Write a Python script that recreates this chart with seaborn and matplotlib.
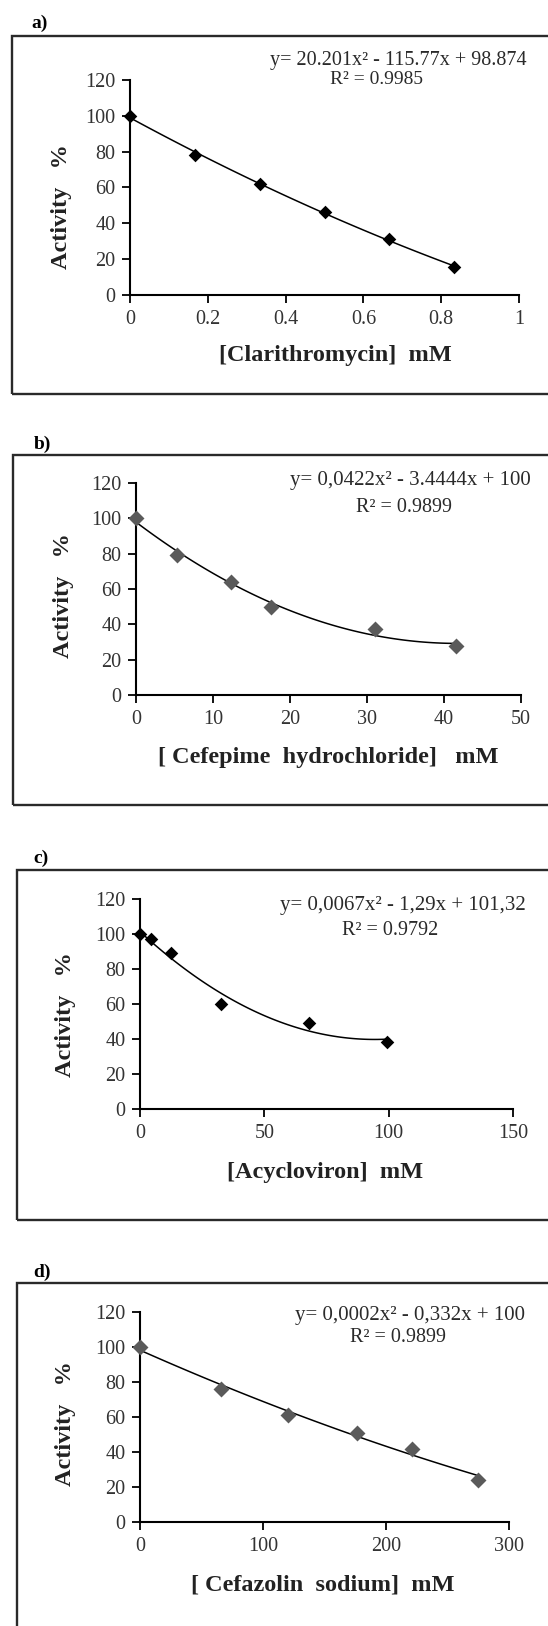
import numpy as np
import pandas as pd
import matplotlib
matplotlib.use("Agg")
import matplotlib.pyplot as plt
import seaborn as sns
from matplotlib.patches import Rectangle

sns.set_theme(style="ticks")
plt.rcParams['font.family'] = ['Liberation Serif', 'DejaVu Serif']

W, H = 548, 1626

# ---------------- data ----------------
clar_x = [0, 0.167, 0.333, 0.5, 0.667, 0.833]
clar_y = [100, 78, 62, 46.5, 31, 15.5]

cef_x = [0, 5.3, 12.3, 17.5, 31, 41.5]
cef_y = [100, 79, 64, 50, 37.5, 27.5]

acy_x = [0, 4.6, 12.6, 32.6, 67.8, 99.5]
acy_y = [100, 97, 89, 60, 49, 38.5]

cfz_x = [0, 65.5, 120.5, 176.5, 221, 274.5]
cfz_y = [100, 76, 61, 51, 42, 24]

y_ticks = [0, 20, 40, 60, 80, 100, 120]
a_xticks = [0, 0.2, 0.4, 0.6, 0.8, 1]
a_xticklabels = ["0", "0.2", "0.4", "0.6", "0.8", "1"]
b_xticks = [0, 10, 20, 30, 40, 50]
c_xticks = [0, 50, 100, 150]
d_xticks = [0, 100, 200, 300]

panel_letters = ["a)", "b)", "c)", "d)"]
x_labels = ["[Clarithromycin]  mM", "[ Cefepime  hydrochloride]   mM",
            "[Acycloviron]  mM", "[ Cefazolin  sodium]  mM"]
y_label = "Activity   %"
equations = ["y= 20.201x² - 115.77x + 98.874",
             "y= 0,0422x² - 3.4444x + 100",
             "y= 0,0067x² - 1,29x + 101,32",
             "y= 0,0002x² - 0,332x + 100"]
r2_texts = ["R² = 0.9985", "R² = 0.9899", "R² = 0.9792", "R² = 0.9899"]

panels = [
    dict(x=clar_x, y=clar_y, xt=a_xticks, xtl=a_xticklabels, xlim=(0, 1),
         ax=(130, 519, 80, 295), box=(12, 36, 394), color="black", s=48,
         eq=(398, 60), r2=(377, 79), xl=(335, 355), yl=(61, 207), let=(40, 23)),
    dict(x=cef_x, y=cef_y, xt=b_xticks, xtl=None, xlim=(0, 50),
         ax=(136, 521, 483, 695), box=(13, 455, 805), color="#5a5a5a", s=66,
         eq=(410, 480), r2=(404, 507), xl=(328, 757), yl=(63, 596), let=(42, 444)),
    dict(x=acy_x, y=acy_y, xt=c_xticks, xtl=None, xlim=(0, 150),
         ax=(140, 513, 899, 1109), box=(17, 870, 1220), color="black", s=48,
         eq=(403, 905), r2=(390, 930), xl=(325, 1172), yl=(66, 1015), let=(41, 858)),
    dict(x=cfz_x, y=cfz_y, xt=d_xticks, xtl=None, xlim=(0, 300),
         ax=(140, 509, 1312, 1522), box=(17, 1283, 1700), color="#5a5a5a", s=66,
         eq=(410, 1315), r2=(398, 1337), xl=(323, 1585), yl=(66, 1424), let=(42, 1272)),
]

fig = plt.figure(figsize=(W / 100, H / 100), dpi=100)
fig.patch.set_facecolor("white")


def fx(px):
    return px / W


def fy(py):
    return 1 - py / H


for i, p in enumerate(panels):
    # outer frame
    bx, btop, bbot = p["box"]
    rect = Rectangle((fx(bx), fy(bbot)), fx(W + 40 - bx), fy(btop) - fy(bbot),
                     transform=fig.transFigure, fill=False, edgecolor="#2a2a2a",
                     linewidth=1.7, zorder=0)
    fig.patches.append(rect)

    x0, x1, yt, yb = p["ax"]
    ax = fig.add_axes([fx(x0), fy(yb), (x1 - x0) / W, (yb - yt) / H])
    ax.set_facecolor("none")
    df = pd.DataFrame({"x": p["x"], "y": p["y"]})
    sns.regplot(data=df, x="x", y="y", order=2, ci=None, scatter=False, ax=ax,
                line_kws=dict(color="black", linewidth=1.1))
    sns.scatterplot(data=df, x="x", y="y", marker="D", s=p["s"], color=p["color"],
                    edgecolor=p["color"], linewidth=0, ax=ax, clip_on=False, zorder=3)
    ax.set_xlim(*p["xlim"])
    ax.set_ylim(0, 120)
    ax.set_xticks(p["xt"])
    if p["xtl"] is not None:
        ax.set_xticklabels(p["xtl"])
    ax.set_yticks(y_ticks)
    ax.set_xlabel("")
    ax.set_ylabel("")
    sns.despine(ax=ax)
    for sp in ["left", "bottom"]:
        ax.spines[sp].set_linewidth(1.5)
        ax.spines[sp].set_color("black")
    ax.tick_params(axis="both", direction="out", length=5.5, width=1.3,
                   color="black", labelsize=14.5, labelcolor="#333333", pad=5)

    eq_size = 14.5 if i == 0 else 15
    r2_size = 14 if i == 0 else 14.5
    fig.text(fx(p["eq"][0]), fy(p["eq"][1]), equations[i], ha="center", va="center",
             fontsize=eq_size, color="#2a2a2a")
    fig.text(fx(p["r2"][0]), fy(p["r2"][1]), r2_texts[i], ha="center", va="center",
             fontsize=r2_size, color="#2a2a2a")
    fig.text(fx(p["xl"][0]), fy(p["xl"][1]), x_labels[i], ha="center", va="center",
             fontsize=17.5, fontweight="bold", color="#222222")
    fig.text(fx(p["yl"][0]), fy(p["yl"][1]), y_label, ha="center", va="center",
             rotation=90, fontsize=17.5, fontweight="bold", color="#222222")
    fig.text(fx(p["let"][0]), fy(p["let"][1]), panel_letters[i], ha="center",
             va="center", fontsize=14, fontweight="bold", color="black")

fig.savefig("out.png", dpi=100)
